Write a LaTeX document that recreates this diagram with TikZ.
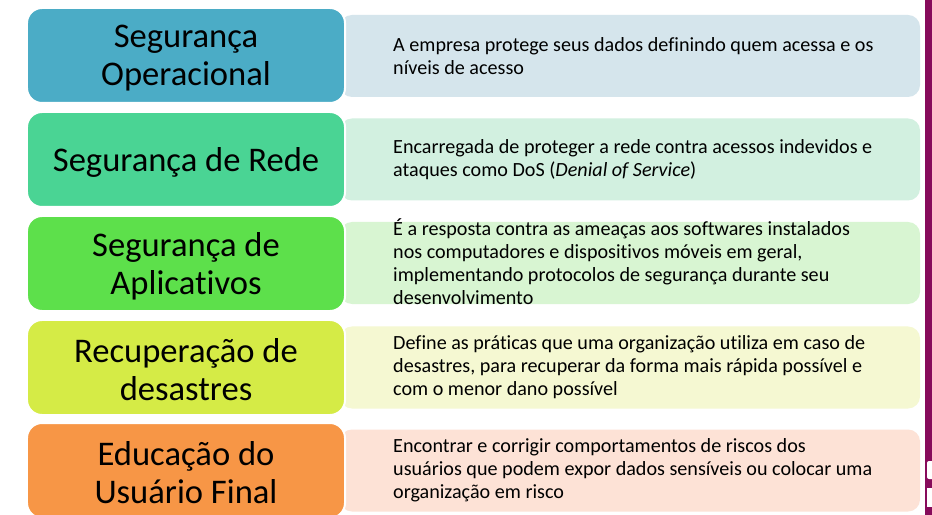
\documentclass[tikz,border=0pt]{standalone}
\usepackage{fontspec}
\setmainfont{Carlito}[Ligatures=NoCommon]
\definecolor{c1}{HTML}{4BACC6}
\definecolor{c2}{HTML}{4AD494}
\definecolor{c3}{HTML}{5DE04B}
\definecolor{c4}{HTML}{D5EB46}
\definecolor{c5}{HTML}{F79646}
\definecolor{r1}{HTML}{D5E5EC}
\definecolor{r2}{HTML}{D2F0E0}
\definecolor{r3}{HTML}{D8F5D2}
\definecolor{r4}{HTML}{F5F8D2}
\definecolor{r5}{HTML}{FDE2D6}
\definecolor{barpurple}{HTML}{870B5B}
\begin{document}
\begin{tikzpicture}[x=1bp,y=-1bp,
  rbox/.style={rounded corners=12bp, minimum width=580bp, minimum height=82bp, inner sep=0pt},
  lbox/.style={draw=white, line width=2bp, rounded corners=15bp, minimum width=318bp, minimum height=95bp, inner sep=0pt},
  title/.style={font=\fontsize{34.7}{38}\selectfont, align=center, inner sep=0pt, yshift=-2.5bp},
  desc/.style={font=\fontsize{20.2}{23}\selectfont, align=left, anchor=west, inner sep=0pt}]
\useasboundingbox (0,0) rectangle (932,515);
\fill[white] (0,0) rectangle (932,515);
% purple bar
\fill[barpurple] (925,0) rectangle (932,515);
\fill[white, rounded corners=2bp] (927,461) rectangle (934,479);
\fill[white] (927,488) rectangle (932,507);
% right boxes
\node[rbox, fill=r1] (R1) at (630,56) {};
\node[rbox, fill=r2] (R2) at (630,159.5) {};
\node[rbox, fill=r3] (R3) at (630,263) {};
\node[rbox, fill=r4] (R4) at (630,367.5) {};
\node[rbox, fill=r5] (R5) at (630,470.5) {};
% left boxes
\node[lbox, fill=c1] (L1) at (186,55.5) {};
\node[lbox, fill=c2] (L2) at (186,159.5) {};
\node[lbox, fill=c3] (L3) at (186,263.5) {};
\node[lbox, fill=c4] (L4) at (186,367.5) {};
\node[lbox, fill=c5] (L5) at (186,470.5) {};
\node[title] (T1) at (L1.center) {Segurança\\Operacional};
\node[title] (T2) at (L2.center) {Segurança de Rede};
\node[title] (T3) at (L3.center) {Segurança de\\Aplicativos};
\node[title] (T4) at (L4.center) {Recuperação de\\desastres};
\node[title] (T5) at (L5.center) {Educação do\\Usuário Final};
% descriptions
\node[desc] (D1) at (393,56) {A empresa protege seus dados definindo quem acessa e os\\níveis de acesso};
\node[desc] (D2) at (393,159.5) {Encarregada de proteger a rede contra acessos indevidos e\\ataques como DoS (\textit{Denial of Service})};
\node[desc] (D3) at (393,262) {É a resposta contra as ameaças aos softwares instalados\\nos computadores e dispositivos móveis em geral,\\implementando protocolos de segurança durante seu\\desenvolvimento};
\node[desc] (D4) at (393,367.5) {Define as práticas que uma organização utiliza em caso de\\desastres, para recuperar da forma mais rápida possível e\\com o menor dano possível};
\node[desc] (D5) at (393,470.5) {Encontrar e corrigir comportamentos de riscos dos\\usuários que podem expor dados sensíveis ou colocar uma\\organização em risco};
\end{tikzpicture}
\end{document}
